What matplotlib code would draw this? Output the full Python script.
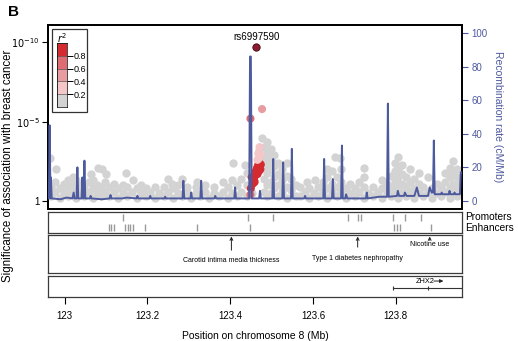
import numpy as np
import matplotlib
matplotlib.use("Agg")
import matplotlib.pyplot as plt
from matplotlib.patches import Rectangle

plt.rcParams['font.family'] = ['Liberation Sans', 'DejaVu Sans']

# ---- data ----
x_ticks = [123.0, 123.2, 123.4, 123.6, 123.8]
x_ticklabels = ['123', '123.2', '123.4', '123.6', '123.8']

# grey SNPs (r2 < 0.2): column positions (Mb) and -log10(p) values in each column
grey_cols = [
    122.965, 122.968, 122.978, 122.980, 122.988, 122.998, 123.008, 123.018, 123.020, 123.028,
    123.038, 123.048, 123.058, 123.065, 123.068, 123.078, 123.080, 123.088, 123.090, 123.098,
    123.100, 123.108, 123.119, 123.130, 123.141, 123.149, 123.152, 123.163, 123.166, 123.174,
    123.185, 123.196, 123.207, 123.218, 123.229, 123.240, 123.251, 123.260, 123.262, 123.273,
    123.284, 123.295, 123.306, 123.317, 123.320, 123.328, 123.339, 123.350, 123.361, 123.372,
    123.383, 123.394, 123.405, 123.407, 123.416, 123.427, 123.436, 123.440, 123.452, 123.470,
    123.477, 123.482, 123.490, 123.498, 123.506, 123.515, 123.525, 123.537, 123.548, 123.558,
    123.569, 123.580, 123.586, 123.591, 123.602, 123.605, 123.613, 123.624, 123.635, 123.646,
    123.653, 123.657, 123.665, 123.668, 123.679, 123.690, 123.701, 123.712, 123.723, 123.734,
    123.745, 123.756, 123.766, 123.778, 123.789, 123.798, 123.806, 123.815, 123.825, 123.835,
    123.845, 123.856, 123.866, 123.877, 123.888, 123.899, 123.910, 123.920, 123.930, 123.938,
    123.947, 123.955,
]
grey_vals = [
    [2.7], [0.3, 0.9], [0.6, 1.2], [2.0], [0.2, 0.8], [0.5, 1.1], [0.3, 0.9, 1.3], [0.6, 1.0], [1.5], [0.2, 0.8, 1.3],
    [0.5, 1.1], [0.3, 0.9], [0.6, 1.2], [1.7], [0.2, 0.8, 1.3], [0.5, 1.0], [2.1], [0.3, 0.9], [2.0], [0.6, 1.2],
    [1.7], [0.3, 0.9], [0.6, 1.1], [0.2, 0.8], [0.5, 1.0], [1.8], [0.3, 0.9], [0.6], [1.3], [0.2, 0.8],
    [0.5, 1.0], [0.3, 0.8], [0.6], [0.2, 0.9], [0.5], [0.3, 0.9], [0.6, 1.4], [1.1], [0.2, 0.8], [0.5, 1.0],
    [0.3, 1.4], [0.6, 0.9], [0.2], [0.5, 0.9], [1.2], [0.3], [0.6, 1.0], [0.2], [0.5, 0.9], [0.3],
    [0.6, 1.2], [0.2, 0.9], [0.5, 1.3], [2.4], [0.3, 1.0], [0.6, 1.4], [2.3], [0.3, 1.0, 1.8], [0.5, 1.5], [3.2, 2.6],
    [4.0], [3.4, 2.8, 2.2, 1.4, 0.6], [3.7, 3.0, 2.4, 1.8, 1.0, 0.3], [3.3, 2.6, 2.0, 1.2, 0.5], [2.9, 2.2, 1.5, 0.8],
    [2.4, 1.7, 1.0, 0.3], [2.0, 1.3, 0.6], [2.4, 1.6, 0.9, 0.2], [1.4, 0.7], [1.0, 0.3],
    [0.3, 0.9], [0.6], [1.2], [0.2, 0.8], [0.5], [1.3], [0.3, 0.9], [0.6, 1.2], [0.2, 0.8, 1.5, 2.0], [0.5, 1.1, 1.9],
    [2.8], [0.3, 0.9, 1.5], [2.7], [0.6, 1.2, 2.0], [0.2, 0.8], [0.5, 1.1], [0.3, 0.8], [0.6, 1.2], [0.2, 0.9, 1.5, 2.1], [0.5],
    [0.3, 0.9], [0.6], [0.2, 0.8, 1.3], [0.5, 1.1], [0.3, 0.9, 1.6], [0.6, 1.2, 1.9, 2.4], [0.2, 0.8, 1.5, 2.1, 2.8], [0.5, 1.1, 1.7, 2.3], [0.3, 0.9, 1.5], [0.6, 1.2, 2.0],
    [0.2, 0.8, 1.4], [0.5, 1.1, 1.8], [0.3, 0.9], [0.6, 1.5], [0.2, 0.8], [0.5, 1.1], [0.3, 0.9], [0.6, 1.2, 1.8], [0.2, 0.8, 1.5, 2.1], [0.5, 1.1, 1.8, 2.5],
    [0.3, 0.9, 1.5, 2.0], [0.6, 1.2],
]

# SNPs in LD with the lead SNP
ld_pos = [123.458, 123.460, 123.462, 123.465, 123.468, 123.471, 123.474, 123.466, 123.470, 123.455,
          123.452, 123.473, 123.457, 123.463, 123.459, 123.450,
          123.471, 123.468, 123.473, 123.466, 123.470,
          123.477, 123.449, 123.449]
ld_logp = [1.3, 1.6, 1.9, 2.1, 2.3, 2.4, 2.3, 1.7, 1.9, 1.1,
           1.5, 2.0, 1.4, 1.7, 1.2, 0.8,
           3.4, 3.0, 2.9, 2.6, 2.7,
           5.8, 5.2, 0.4]
ld_r2 = [0.9, 0.9, 0.9, 0.9, 0.9, 0.9, 0.9, 0.9, 0.9, 0.9,
         0.9, 0.9, 0.9, 0.9, 0.9, 0.9,
         0.3, 0.3, 0.3, 0.3, 0.3,
         0.5, 0.7, 0.7]

lead_name = 'rs6997590'
lead_pos = 123.4627
lead_logp = 9.7

# recombination rate (cM/Mb)
recomb_pos = [
    122.960, 122.962, 122.964, 122.966, 122.967, 122.969, 122.990, 123.005, 123.019, 123.022,
    123.024, 123.029, 123.031, 123.033, 123.041, 123.043, 123.045, 123.046, 123.048, 123.050,
    123.061, 123.063, 123.065, 123.090, 123.109, 123.111, 123.113, 123.140, 123.150, 123.174,
    123.176, 123.178, 123.205, 123.207, 123.209, 123.241, 123.243, 123.245, 123.285, 123.287,
    123.289, 123.304, 123.306, 123.308, 123.328, 123.330, 123.332, 123.362, 123.364, 123.366,
    123.410, 123.412, 123.414, 123.446, 123.448, 123.450, 123.452, 123.470, 123.472, 123.474,
    123.502, 123.504, 123.506, 123.526, 123.528, 123.530, 123.547, 123.549, 123.551, 123.579,
    123.581, 123.583, 123.625, 123.627, 123.629, 123.646, 123.648, 123.650, 123.668, 123.670,
    123.672, 123.678, 123.680, 123.683, 123.728, 123.730, 123.732, 123.760, 123.779, 123.781,
    123.783, 123.803, 123.805, 123.808, 123.820, 123.822, 123.826, 123.845, 123.851, 123.856,
    123.878, 123.882, 123.887, 123.890, 123.892, 123.894, 123.909, 123.911, 123.913, 123.928,
    123.930, 123.932, 123.940, 123.942, 123.944, 123.955, 123.957, 123.960,
]
recomb_rate = [
    1.5, 1.5, 45, 1.5, 14, 1.5, 1.0, 2.0, 1.5, 5,
    1.5, 1.5, 20, 1.5, 1.5, 14, 1.5, 1.5, 24, 1.5,
    1.5, 3, 1.5, 1.0, 1.5, 3.5, 1.5, 1.5, 2, 1.5,
    3, 1.5, 1.5, 3, 1.5, 1.5, 2.5, 1.5, 1.5, 12,
    1.5, 1.5, 5, 1.5, 1.5, 12, 1.5, 1.5, 3, 1.5,
    1.5, 8, 1.5, 1.5, 86, 86, 1.5, 1.5, 6, 1.5,
    1.5, 25, 1.5, 1.5, 23, 1.5, 1.5, 31, 1.5, 1.5,
    3, 1.5, 1.5, 25, 1.5, 1.5, 13, 1.5, 1.5, 33,
    1.5, 1.5, 4, 1.5, 1.5, 5, 1.5, 2.5, 2.5, 58,
    2.5, 3, 6, 3, 3, 5, 3, 3, 8, 3,
    3, 8, 5, 5, 36, 4, 4, 5, 4, 4,
    6, 4, 4, 5, 4, 4, 17, 17,
]

promoters = [123.142, 123.444, 123.504, 123.685, 123.709, 123.717, 123.794, 123.822, 123.862]
enhancers = [123.107, 123.113, 123.119, 123.145, 123.153, 123.159, 123.165, 123.195, 123.320,
             123.448, 123.796, 123.802, 123.810, 123.884]

gwas_pos = [123.403, 123.708, 123.882]
gwas_traits = ['Carotid intima media thickness', 'Type 1 diabetes nephropathy', 'Nicotine use']

gene_name = 'ZHX2'
gene_start = 123.793
gene_end = 124.05
gene_exons = [123.793, 123.877]

r2_edges = [0.0, 0.2, 0.4, 0.6, 0.8, 1.0]
r2_colors = ['#d3d3d3', '#f4c6c7', '#e99ca0', '#df6c73', '#d42a30']

# ---- figure ----
W, H = 518, 341
fig = plt.figure(figsize=(W / 100, H / 100), dpi=100)

def box(top, bottom, left=48, right=462):
    return [left / W, 1 - bottom / H, (right - left) / W, (bottom - top) / H]

xlim = (122.96, 123.96)
recomb_col = '#4e5a9e'

ax = fig.add_axes(box(25, 209))
ax.set_xlim(xlim)
ax.set_ylim(-0.5, 11.1)

gx = [c for c, vals in zip(grey_cols, grey_vals) for v in vals]
gy = [v for c, vals in zip(grey_cols, grey_vals) for v in vals]
ax.scatter(gx, gy, s=36, color=r2_colors[0], linewidths=0, zorder=2)

ld_cols = [r2_colors[int(np.digitize(r, r2_edges[1:-1]))] for r in ld_r2]
ax.scatter(ld_pos, ld_logp, s=34, c=ld_cols, linewidths=0, zorder=3)

ax.scatter([lead_pos], [lead_logp], s=28, color='#8e1b30', edgecolors='#3a0a12', linewidths=0.6, zorder=6)
ax.text(lead_pos, lead_logp + 0.35, lead_name, ha='center', va='bottom', fontsize=7, zorder=6)

ax.set_xticks([])
ax.set_yticks([0, 5, 10])
ax.set_yticklabels(['1', r'$10^{-5}$', r'$10^{-10}$'], fontsize=7)
ax.tick_params(axis='y', length=4, width=0.8, pad=2)
for sp in ax.spines.values():
    sp.set_linewidth(1.3)

# r2 legend
ax.add_patch(Rectangle((0.0097, 0.527), 0.0845, 0.451, transform=ax.transAxes,
                       facecolor='white', edgecolor='#333333', lw=0.9, zorder=5))
cax = ax.inset_axes([0.0217, 0.554, 0.024, 0.348])
cax.set_zorder(9)
cax.bar([0] * 5, np.diff(r2_edges), bottom=r2_edges[:-1], color=r2_colors, width=1,
        edgecolor='#555555', linewidth=0.4)
cax.set_xlim(-0.5, 0.5)
cax.set_ylim(0, 1)
cax.set_xticks([])
cax.yaxis.tick_right()
cax.set_yticks([0.2, 0.4, 0.6, 0.8])
cax.set_yticklabels(['0.2', '0.4', '0.6', '0.8'])
cax.tick_params(axis='y', labelsize=6.5, length=4, width=0.7, pad=1)
for sp in cax.spines.values():
    sp.set_linewidth(0.5)
ax.text(0.034, 0.93, r'$r^2$', transform=ax.transAxes, ha='center', va='center',
        fontsize=7, zorder=8)

# recombination rate on its own axis, drawn over the points
ax2 = ax.twinx()
ax2.plot(recomb_pos, recomb_rate, color=recomb_col, lw=1.4, zorder=4)
ax2.set_ylim(-4.8, 104.8)
ax2.set_xlim(xlim)
ax2.set_yticks([0, 20, 40, 60, 80, 100])
ax2.tick_params(axis='y', colors=recomb_col, labelsize=7, length=4, width=0.8, pad=3)
ax2.set_ylabel('Recombination rate (cM/Mb)', color=recomb_col, fontsize=7.5, rotation=270, labelpad=11)
for sp in ax2.spines.values():
    sp.set_linewidth(1.3)
    sp.set_color('black')

# promoters / enhancers
axr = fig.add_axes(box(212, 233))
axr.set_xlim(xlim)
axr.set_ylim(0, 1)
axr.vlines(promoters, 0.58, 0.92, color='#9a9a9a', lw=1)
axr.vlines(enhancers, 0.08, 0.42, color='#9a9a9a', lw=1)
axr.set_xticks([])
axr.set_yticks([])
axr.text(1.008, 0.74, 'Promoters', transform=axr.transAxes, fontsize=7.3, va='center')
axr.text(1.008, 0.22, 'Enhancers', transform=axr.transAxes, fontsize=7.3, va='center')

# GWAS hits
axg = fig.add_axes(box(235, 273))
axg.set_xlim(xlim)
axg.set_ylim(0, 1)
axg.set_xticks([])
axg.set_yticks([])
tails = [0.6, 0.68, 0.86]
labels_y = [0.34, 0.39, 0.74]
for p, t, tail, ly in zip(gwas_pos, gwas_traits, tails, labels_y):
    axg.annotate('', xy=(p, 0.96), xytext=(p, tail),
                 arrowprops=dict(arrowstyle='->', lw=0.7, color='#222222', shrinkA=0, shrinkB=0,
                                 mutation_scale=5))
    axg.text(p, ly, t, ha='center', va='center', fontsize=5)

# genes
axz = fig.add_axes(box(276, 297))
axz.set_xlim(xlim)
axz.set_ylim(0, 1)
axz.plot([gene_start, gene_end], [0.43, 0.43], color='#333333', lw=0.8)
axz.vlines(gene_exons, 0.33, 0.53, color='#333333', lw=0.8)
axz.text(123.872, 0.76, gene_name, ha='center', va='center', fontsize=5.3)
axz.annotate('', xy=(123.915, 0.76), xytext=(123.892, 0.76),
             arrowprops=dict(arrowstyle='-|>', lw=0.7, color='#222222', shrinkA=0, shrinkB=0,
                             mutation_scale=5))
axz.set_yticks([])
axz.set_xticks(x_ticks)
axz.set_xticklabels(x_ticklabels, fontsize=7)
axz.tick_params(axis='x', length=5, width=0.8, pad=5)
axz.set_xlabel('Position on chromosome 8 (Mb)', fontsize=7.5, labelpad=7)

for a in (axr, axg, axz):
    for sp in a.spines.values():
        sp.set_linewidth(0.9)
        sp.set_color('#3a3a3a')

fig.text(8 / W, 1 - 166 / H, 'Significance of association with breast cancer', rotation=90,
         ha='center', va='center', fontsize=8.3)
fig.text(8 / W, 1 - 12 / H, 'B', fontsize=11, fontweight='bold', ha='left', va='center')

fig.savefig('out.png', dpi=100)
